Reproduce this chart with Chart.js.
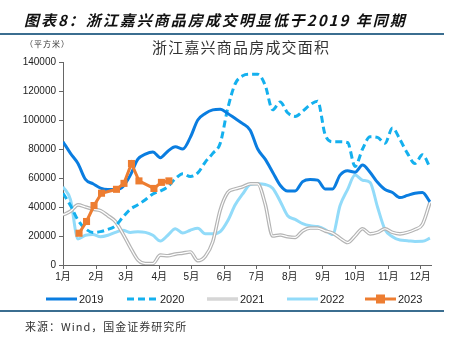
<!DOCTYPE html>
<html>
<head>
<meta charset="utf-8">
<script src="https://cdn.jsdelivr.net/npm/chart.js@4"></script>
<style>
  html, body { margin: 0; padding: 0; background: #fff; }
  body { width: 459px; height: 339px; position: relative; overflow: hidden;
         font-family: "Liberation Sans", "Noto Sans CJK SC", sans-serif; color: #222; }
  #wrap { position: absolute; left: 0; top: 0; width: 459px; height: 339px; }
  .abs { position: absolute; white-space: nowrap; }
  #heading { left: 24px; top: 9px; font: italic bold 15px "Noto Sans CJK SC", sans-serif;
             letter-spacing: 2px; color: #111; }
  #rule-top { left: 0; top: 33px; width: 444px; height: 2px; background: #3b6e90; }
  #rule-bottom { left: 0; top: 310px; width: 444px; height: 2px; background: #3b6e90; }
  #unit { left: 25px; top: 38px; font: 8px "Noto Sans CJK SC", sans-serif; color: #333; letter-spacing: 1px; }
  #chart-title { left: 152px; top: 36px; font: 15px "Noto Sans CJK SC", sans-serif; color: #333; letter-spacing: 1.2px; }
  #source { left: 25px; top: 318px; font: 11px "Noto Sans CJK SC", sans-serif; color: #333; letter-spacing: 1px; }
  #legend { left: 0; top: 291px; width: 459px; height: 16px; }
  .item { position: absolute; top: 0; height: 16px; font-size: 11px; line-height: 16px; }
  .item svg { position: absolute; top: 0; }
  .item span { position: absolute; top: 0; }
</style>
</head>
<body>
<div id="wrap"><canvas id="chart" width="459" height="339"></canvas></div>
<div class="abs" id="heading">图表8：浙江嘉兴商品房成交明显低于2019 年同期</div>
<div class="abs" id="rule-top"></div>
<div class="abs" id="unit">（平方米）</div>
<div class="abs" id="chart-title">浙江嘉兴商品房成交面积</div>
<div class="abs" id="legend"></div>
<div class="abs" id="rule-bottom"></div>
<div class="abs" id="source">来源：Wind，国金证券研究所</div>
<script>
// Month ticks (day of year) and their labels
const monthStarts = [0, 31, 59, 90, 120, 151, 181, 212, 243, 273, 304, 334];
const monthLabels = ['1月', '2月', '3月', '4月', '5月', '6月', '7月', '8月', '9月', '10月', '11月', '12月'];

// Weekly sample days shared by 2019-2022
const weekDays = [0, 7, 14, 21, 28, 35, 42, 49, 56, 63, 70, 77, 84, 91, 98, 105, 112, 119, 126, 133,
  140, 147, 154, 161, 168, 175, 182, 189, 196, 203, 210, 217, 224, 231, 238, 245, 252, 259, 266, 273,
  280, 287, 294, 301, 308, 315, 322, 329, 336, 343];

const seriesNames = ['2019', '2020', '2021', '2022', '2023'];

// Weekly transaction area (square metres)
const area2019 = [85000, 77000, 70000, 59000, 56000, 53000, 52000, 52000, 54000, 62000,
  73000, 76500, 78000, 74000, 78500, 81500, 80000, 88000, 100000, 104500,
  107000, 107500, 104500, 101000, 97500, 93000, 80000, 73000, 64000, 55000,
  51000, 51000, 57500, 59000, 58500, 52500, 52500, 62000, 65000, 64000,
  69000, 64000, 57000, 52000, 50000, 46500, 48000, 49500, 50000, 43500];

const area2020 = [49500, 41000, 31000, 25000, 22500, 23000, 24500, 27000, 33000, 38500,
  41500, 45000, 49000, 51000, 54000, 59500, 63000, 61000, 63500, 71000,
  77000, 84000, 108000, 125000, 130500, 131500, 131500, 124000, 107000, 112500,
  105000, 102500, 106000, 110500, 113000, 90000, 85000, 85000, 84500, 68000,
  80000, 88500, 88000, 84000, 94500, 86500, 77000, 70000, 76000, 67500];

const area2021 = [34500, 37000, 41500, 40000, 38500, 37500, 34000, 30000, 21500, 12000,
  3500, 1000, 1000, 6800, 6400, 7500, 8200, 9000, 3000, 6000,
  16000, 38000, 50000, 52500, 54000, 56000, 56000, 42000, 20000, 20700,
  19500, 19000, 23500, 25500, 25500, 23500, 22000, 18500, 15500, 20000,
  25000, 21500, 22500, 25000, 22500, 21500, 22500, 24500, 28000, 43000];

const area2022 = [54000, 45000, 18000, 20500, 21000, 19500, 20500, 22500, 24000, 22500,
  23000, 22500, 20500, 16500, 20500, 25000, 22000, 24000, 25300, 21500,
  21500, 23000, 30500, 41500, 49000, 55500, 56000, 55500, 53000, 44000,
  34000, 31500, 28500, 27000, 26500, 24500, 21000, 41000, 52000, 62000,
  58500, 57000, 40000, 24500, 19500, 17200, 16800, 16200, 16300, 18500];

// 2023 is reported only for a handful of weeks
const days2023 = [15, 22, 29, 36, 50, 57, 64, 71, 85, 92, 99];
const area2023 = [21900, 30000, 41000, 49500, 52200, 56300, 70000, 58000, 52800, 57000, 58000];

const colors = ['#0a7de0', '#14b0ee', '#b4b4b4', '#92dbf9', '#ed7d31'];

function toPoints(days, values) {
  return values.map((v, i) => ({ x: days[i], y: v }));
}

const line = (label, data, color, width, extra) => Object.assign({
  label: label,
  data: data,
  borderColor: color,
  backgroundColor: color,
  borderWidth: width,
  pointRadius: 0,
  cubicInterpolationMode: 'monotone',
  fill: false,
}, extra || {});

const datasets = [
  line(seriesNames[4], toPoints(days2023, area2023), colors[4], 3, {
    pointRadius: 5, pointStyle: 'rect', pointBorderWidth: 0, cubicInterpolationMode: 'default', tension: 0, order: 0 }),
  line(seriesNames[0], toPoints(weekDays, area2019), colors[0], 3, { order: 1 }),
  line(seriesNames[1], toPoints(weekDays, area2020), colors[1], 3, { borderDash: [7, 4], order: 2 }),
  // 2021 is drawn as a hollow double line: grey stroke with a white core
  line('2021-core', toPoints(weekDays, area2021), '#ffffff', 1.2, { order: 3 }),
  line(seriesNames[2], toPoints(weekDays, area2021), colors[2], 3.6, { order: 4 }),
  line(seriesNames[3], toPoints(weekDays, area2022), colors[3], 3, { order: 5 }),
];

const tickFont = { family: '"Liberation Sans", "Noto Sans CJK SC", sans-serif', size: 10 };

new Chart(document.getElementById('chart').getContext('2d'), {
  type: 'line',
  data: { datasets: datasets },
  options: {
    responsive: false,
    animation: false,
    layout: { padding: { left: 0, top: 62, right: 28, bottom: 54 } },
    plugins: { legend: { display: false }, tooltip: { enabled: false } },
    scales: {
      x: {
        type: 'linear',
        min: 0,
        max: 344,
        afterBuildTicks: (scale) => { scale.ticks = monthStarts.map(v => ({ value: v })); },
        afterFit: (scale) => { scale.height = 20; },
        ticks: {
          autoSkip: false,
          maxRotation: 0,
          color: '#222',
          font: tickFont,
          padding: 2,
          callback: (value) => monthLabels[monthStarts.indexOf(value)],
        },
        grid: { drawOnChartArea: false, tickLength: 4, color: '#666', tickColor: '#666' },
        border: { color: '#666', width: 1 },
      },
      y: {
        min: 0,
        max: 140000,
        afterFit: (scale) => { scale.width = 63; },
        ticks: { stepSize: 20000, color: '#222', font: tickFont, padding: 3, callback: (value) => String(value) },
        grid: { drawOnChartArea: false, tickLength: 4, color: '#666', tickColor: '#666' },
        border: { color: '#666', width: 1 },
      },
    },
  },
});

// Legend row
const legend = document.getElementById('legend');
const legendX = [46, 127, 207, 287, 365];
seriesNames.forEach((name, i) => {
  const item = document.createElement('div');
  item.className = 'item';
  item.style.left = legendX[i] + 'px';
  let mark = '<line x1="0" y1="8" x2="31" y2="8" stroke="' + colors[i] + '" stroke-width="3"'
    + (i === 1 ? ' stroke-dasharray="7 4"' : '') + '/>';
  if (i === 2) mark = '<line x1="0" y1="8" x2="31" y2="8" stroke="#d6d6d6" stroke-width="3.5"/>';
  if (i === 4) mark += '<rect x="11" y="3.5" width="9" height="9" fill="' + colors[i] + '"/>';
  item.innerHTML = '<svg width="32" height="16">' + mark + '</svg><span style="left:33px">' + name + '</span>';
  legend.appendChild(item);
});
</script>
</body>
